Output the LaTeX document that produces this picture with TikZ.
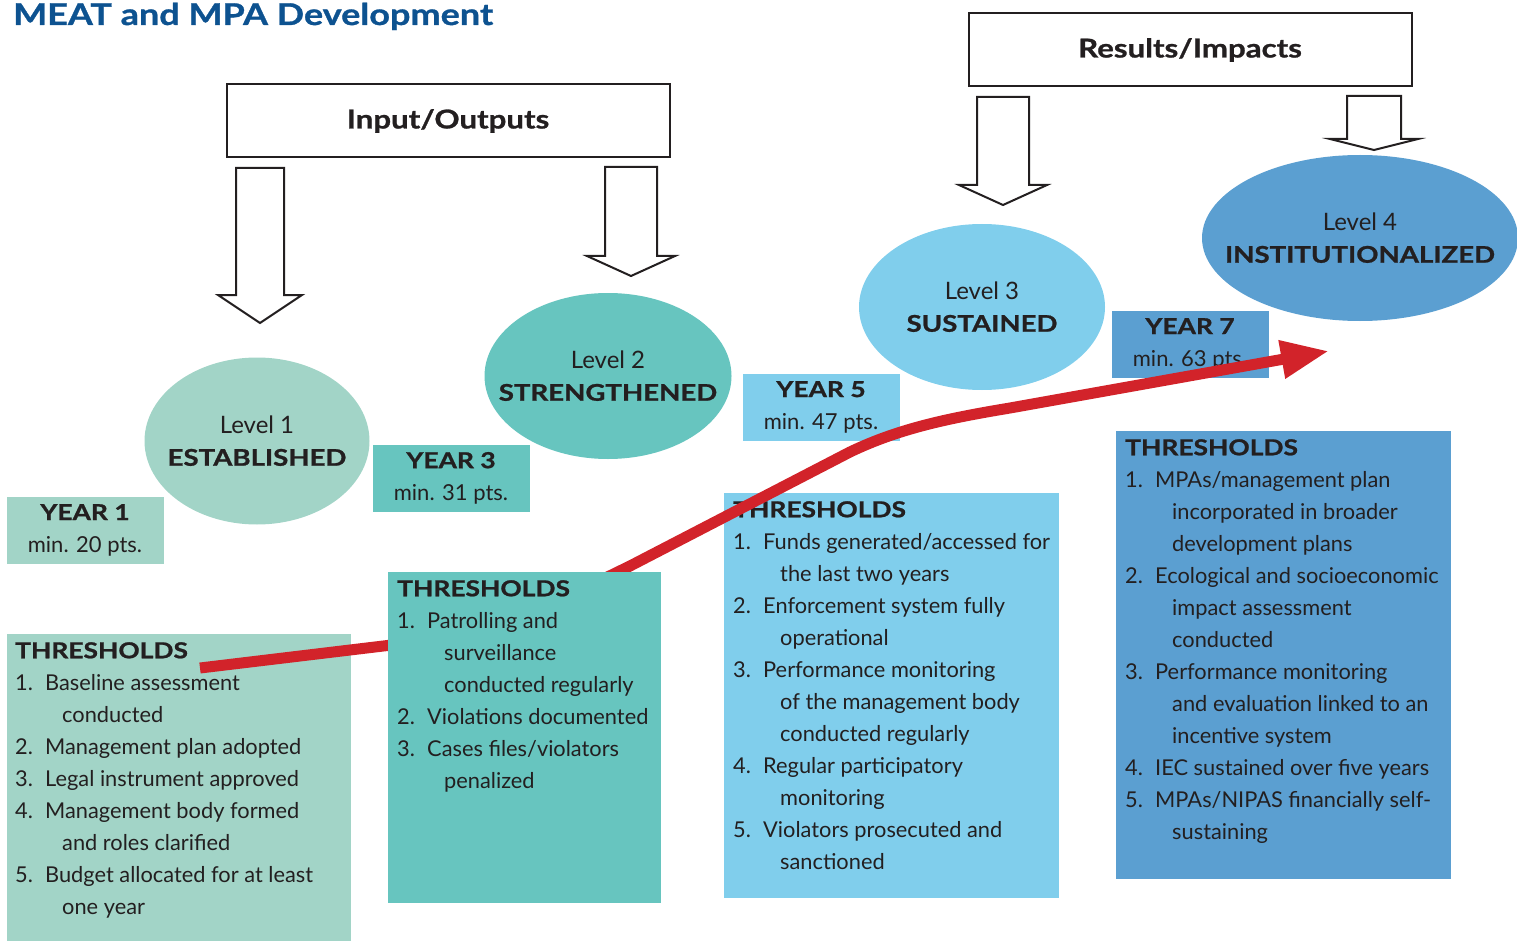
\documentclass[tikz,border=0pt]{standalone}
\usepackage{fontspec}
\setmainfont{Lato}
\newfontface\heavy{Lato Bold}[FakeStretch=1.2, FakeBold=1]
\usetikzlibrary{shapes.geometric,arrows.meta}

\definecolor{ink}{HTML}{231F20}
\definecolor{titleblue}{HTML}{0D5290}
\definecolor{lvlone}{HTML}{A2D4C7}
\definecolor{lvltwo}{HTML}{67C5BF}
\definecolor{lvlthree}{HTML}{80CEEC}
\definecolor{lvlfour}{HTML}{5B9FD1}
\definecolor{trendred}{HTML}{D2232A}

% numbered threshold line, continuation line
\newcommand{\thritem}[2]{\makebox[30pt][l]{#1}#2\\}
\newcommand{\thrcont}[1]{\hspace*{47pt}#1\\}
\newcommand{\thrhead}{{\fontsize{22}{32}\heavy THRESHOLDS}\\}
% hollow block arrow: centre x, top, neck, tip, half shaft, half head
\newcommand{\blockarrow}[6]{\draw[hollow] (#1-#5,#2) -- (#1+#5,#2) -- (#1+#5,#3) -- (#1+#6,#3) -- (#1,#4) -- (#1-#6,#3) -- (#1-#5,#3) -- cycle;}

\begin{document}
\begin{tikzpicture}[x=1pt, y=-1pt,
	lvl/.style={shape=ellipse, inner sep=0pt},
	lvltext/.style={inner sep=0pt, align=center, font=\fontsize{24}{32}\selectfont, text=ink},
	yearbox/.style={shape=rectangle, minimum width=157pt, minimum height=67pt, inner sep=0pt, align=center, font=\fontsize{22}{32}\selectfont, text=ink},
	thrbox/.style={shape=rectangle, anchor=north west, inner sep=0pt},
	thrtext/.style={anchor=north west, inner sep=0pt, align=left, font=\fontsize{21.8}{32}\selectfont, text=ink},
	headbox/.style={shape=rectangle, draw=ink, line width=2pt, minimum width=443pt, minimum height=73pt, font=\fontsize{26}{30}\heavy, text=ink},
	hollow/.style={draw=ink, line width=2pt, fill=white, line join=miter},
	trend/.style={draw=trendred, line width=11pt, -{Triangle[length=48pt,width=36pt]}}]
	\useasboundingbox (0,0) rectangle (1517,941);
	% Title and headers:
	\node[anchor=base west, inner sep=0pt, text=titleblue, font=\fontsize{30}{36}\heavy] (title) at (13,25) {MEAT and MPA Development};
	\node[headbox] (inout) at (448,121) {Input/Outputs};
	\node[headbox] (results) at (1190,50) {Results/Impacts};
	\blockarrow{260}{168}{295}{323}{24}{42}
	\blockarrow{631}{167}{256}{276}{26}{44}
	\blockarrow{1003}{97}{185}{205}{26}{44}
	\blockarrow{1374}{96}{139}{150}{27}{44}
	% Levels:
	\node[lvl, fill=lvlone, minimum width=225pt, minimum height=167pt] (lvA) at (257,441) {};
	\node[lvltext] (lvAtxt) at (lvA.center) {Level 1\\{\fontsize{23}{32}\heavy ESTABLISHED}};
	\node[lvl, fill=lvltwo, minimum width=247pt, minimum height=166pt] (lvB) at (608,376) {};
	\node[lvltext] (lvBtxt) at (lvB.center) {Level 2\\{\fontsize{23}{32}\heavy STRENGTHENED}};
	\node[lvl, fill=lvlthree, minimum width=246pt, minimum height=166pt] (lvC) at (982,307) {};
	\node[lvltext] (lvCtxt) at (lvC.center) {Level 3\\{\fontsize{23}{32}\heavy SUSTAINED}};
	\node[lvl, fill=lvlfour, minimum width=316pt, minimum height=166pt] (lvD) at (1360,238) {};
	\node[lvltext] (lvDtxt) at (lvD.center) {Level 4\\{\fontsize{23}{32}\heavy INSTITUTIONALIZED}};
	% Years:
	\node[yearbox, fill=lvlone] (yrA) at (85,530) {{\heavy YEAR 1}\\min. 20 pts.};
	\node[yearbox, fill=lvltwo] (yrB) at (451,478) {{\heavy YEAR 3}\\min. 31 pts.};
	\node[yearbox, fill=lvlthree] (yrC) at (821,407) {{\heavy YEAR 5}\\min. 47 pts.};
	\node[yearbox, fill=lvlfour] (yrD) at (1190,344) {{\heavy YEAR 7}\\min. 63 pts.};
	% Thresholds:
	\node[thrbox, fill=lvlone, minimum width=344pt, minimum height=307pt] (thrA) at (7,634) {};
	\node[thrtext] (thrAtxt) at ([shift={(8,8)}]thrA.north west) {\thrhead
		\thritem{1.}{Baseline assessment}
		\thrcont{conducted}
		\thritem{2.}{Management plan adopted}
		\thritem{3.}{Legal instrument approved}
		\thritem{4.}{Management body formed}
		\thrcont{and roles clarified}
		\thritem{5.}{Budget allocated for at least}
		\thrcont{one year}};
	\node[thrbox, fill=lvlthree, minimum width=335pt, minimum height=405pt] (thrC) at (724,493) {};
	\node[thrtext] (thrCtxt) at ([shift={(9,8)}]thrC.north west) {\thrhead
		\thritem{1.}{Funds generated/accessed for}
		\thrcont{the last two years}
		\thritem{2.}{Enforcement system fully}
		\thrcont{operational}
		\thritem{3.}{Performance monitoring}
		\thrcont{of the management body}
		\thrcont{conducted regularly}
		\thritem{4.}{Regular participatory}
		\thrcont{monitoring}
		\thritem{5.}{Violators prosecuted and}
		\thrcont{sanctioned}};
	\node[thrbox, fill=lvlfour, minimum width=335pt, minimum height=448pt] (thrD) at (1116,431) {};
	\node[thrtext] (thrDtxt) at ([shift={(9,8)}]thrD.north west) {\thrhead
		\thritem{1.}{MPAs/management plan}
		\thrcont{incorporated in broader}
		\thrcont{development plans}
		\thritem{2.}{Ecological and socioeconomic}
		\thrcont{impact assessment}
		\thrcont{conducted}
		\thritem{3.}{Performance monitoring}
		\thrcont{and evaluation linked to an}
		\thrcont{incentive system}
		\thritem{4.}{IEC sustained over five years}
		\thritem{5.}{MPAs/NIPAS financially self-}
		\thrcont{sustaining}};
	% Progress arrow:
	\coordinate (trendstart) at (200,668);
	\coordinate (trendend) at (1329,351);
	\draw[trend] (trendstart) -- (400,644) .. controls (500,632) and (560,600) .. (630,566) -- (850,452) .. controls (900,428) and (950,418) .. (1010,408) -- (trendend);
	\node[thrbox, fill=lvltwo, minimum width=273pt, minimum height=331pt] (thrB) at (388,572) {};
	\node[thrtext] (thrBtxt) at ([shift={(9,8)}]thrB.north west) {\thrhead
		\thritem{1.}{Patrolling and}
		\thrcont{surveillance}
		\thrcont{conducted regularly}
		\thritem{2.}{Violations documented}
		\thritem{3.}{Cases files/violators}
		\thrcont{penalized}};
\end{tikzpicture}
\end{document}
